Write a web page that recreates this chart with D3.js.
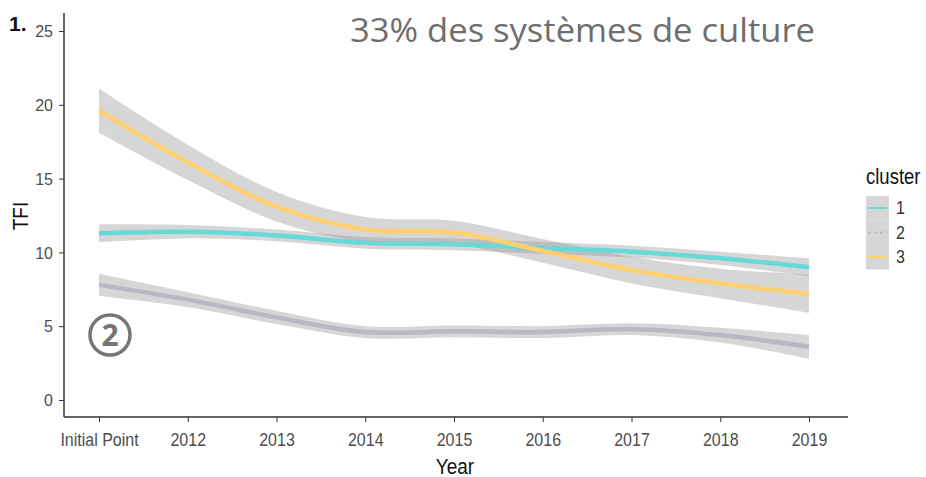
<!DOCTYPE html>
<html><head><meta charset="utf-8">
<script src="https://cdn.jsdelivr.net/npm/d3@7"></script>
<style>body{margin:0;background:#fff}svg{display:block}</style>
</head><body><svg id="c" width="926" height="477"></svg>
<script>
const categories = ["Initial Point","2012","2013","2014","2015","2016","2017","2018","2019"];
const yTicks = [0,5,10,15,20,25];
const cluster1 = [11.3,11.4,11.15,10.65,10.55,10.3,10.05,9.6,9.0];
const cluster1Se = [0.6,0.45,0.4,0.4,0.4,0.4,0.4,0.45,0.6];
const cluster2 = [7.8,6.8,5.6,4.6,4.65,4.6,4.8,4.4,3.6];
const cluster2Se = [0.75,0.5,0.45,0.4,0.4,0.4,0.4,0.5,0.8];
const cluster3 = [19.6,16.1,13.1,11.55,11.35,10.1,8.8,7.9,7.2];
const cluster3Se = [1.5,1.2,1.0,0.85,0.8,0.8,0.9,1.0,1.3];
const clusterNames = ["1","2","3"];
const colors = ["#66d9d9","#b9b8c2","#ffd070"];

const svg = d3.select("#c");
const x = d3.scalePoint().domain(categories).range([99,809]);
const y = d3.scaleLinear().domain([0,25]).range([400,31]);
const series = [[cluster1,cluster1Se],[cluster2,cluster2Se],[cluster3,cluster3Se]];

const curve = d3.curveCatmullRom.alpha(0.5);
const area = d3.area().x((d,i)=>x(categories[i])).y0(d=>y(d[0]-d[1])).y1(d=>y(d[0]+d[1])).curve(curve);
const line = d3.line().x((d,i)=>x(categories[i])).y(d=>y(d)).curve(curve);

series.forEach(([v,s])=>{
  svg.append("path").attr("d",area(v.map((d,i)=>[d,s[i]]))).attr("fill","#999").attr("fill-opacity",0.4);
});
series.forEach(([v,s],k)=>{
  svg.append("path").attr("d",line(v)).attr("fill","none").attr("stroke",colors[k]).attr("stroke-width",4.5);
});

const font = "'Liberation Sans', Arial, sans-serif";
const gx = svg.append("g").attr("transform","translate(0,417)").call(d3.axisBottom(x).tickSize(5));
gx.select(".domain").attr("d","M64,0H848").attr("stroke","#333").attr("stroke-width",1.5);
gx.selectAll(".tick line").attr("stroke","#333");
gx.selectAll("text").attr("font-family",font).attr("font-size",16).attr("fill","#4d4d4d")
  .attr("y",29.5/1.2).attr("dy",0).attr("transform","scale(1,1.2)");
const gy = svg.append("g").attr("transform","translate(64,0)").call(d3.axisLeft(y).tickValues(yTicks).tickSize(5).tickPadding(6));
gy.select(".domain").attr("d","M0,13V417").attr("stroke","#333").attr("stroke-width",1.5);
gy.selectAll(".tick line").attr("stroke","#333");
gy.selectAll("text").attr("font-family",font).attr("font-size",16).attr("fill","#4d4d4d").attr("dy","0.36em");

svg.append("text").attr("transform","translate(455,474) scale(1,1.15)").attr("text-anchor","middle").attr("font-family",font).attr("font-size",19).attr("fill","#111").text("Year");
svg.append("text").attr("transform","translate(28,216) rotate(-90) scale(1,1.15)").attr("text-anchor","middle").attr("font-family",font).attr("font-size",19).attr("fill","#111").text("TFI");

svg.append("text").attr("x",350).attr("y",42).attr("font-family","'Open Sans', sans-serif").attr("font-size",33).attr("fill","#6e6e6e")
  .attr("textLength",465).attr("lengthAdjust","spacingAndGlyphs").text("33% des systèmes de culture");
svg.append("text").attr("x",9).attr("y",31).attr("font-family",font).attr("font-weight","bold").attr("font-size",21).attr("fill","#111").text("1.");

svg.append("circle").attr("cx",110).attr("cy",335).attr("r",20).attr("fill","none").attr("stroke","#767676").attr("stroke-width",3.5);
svg.append("text").attr("x",110).attr("y",346).attr("text-anchor","middle").attr("font-family","'Open Sans', sans-serif").attr("font-weight","bold").attr("font-size",30).attr("fill","#767676").text("2");

svg.append("text").attr("transform","translate(866,184) scale(1,1.15)").attr("font-family",font).attr("font-size",18.5).attr("fill","#111").text("cluster");
clusterNames.forEach((n,i)=>{
  const yy = 208 + i*24.5;
  svg.append("rect").attr("x",866).attr("y",yy-12).attr("width",23).attr("height",24.5).attr("fill","#d6d6d6");
  svg.append("line").attr("x1",868).attr("x2",887).attr("y1",yy).attr("y2",yy).attr("stroke",colors[i]).attr("stroke-width",2).attr("stroke-dasharray",i===1?"3,3":null);
  svg.append("text").attr("transform",`translate(896,${yy+6}) scale(1,1.15)`).attr("font-family",font).attr("font-size",16).attr("fill","#333").text(n);
});
</script></body></html>
